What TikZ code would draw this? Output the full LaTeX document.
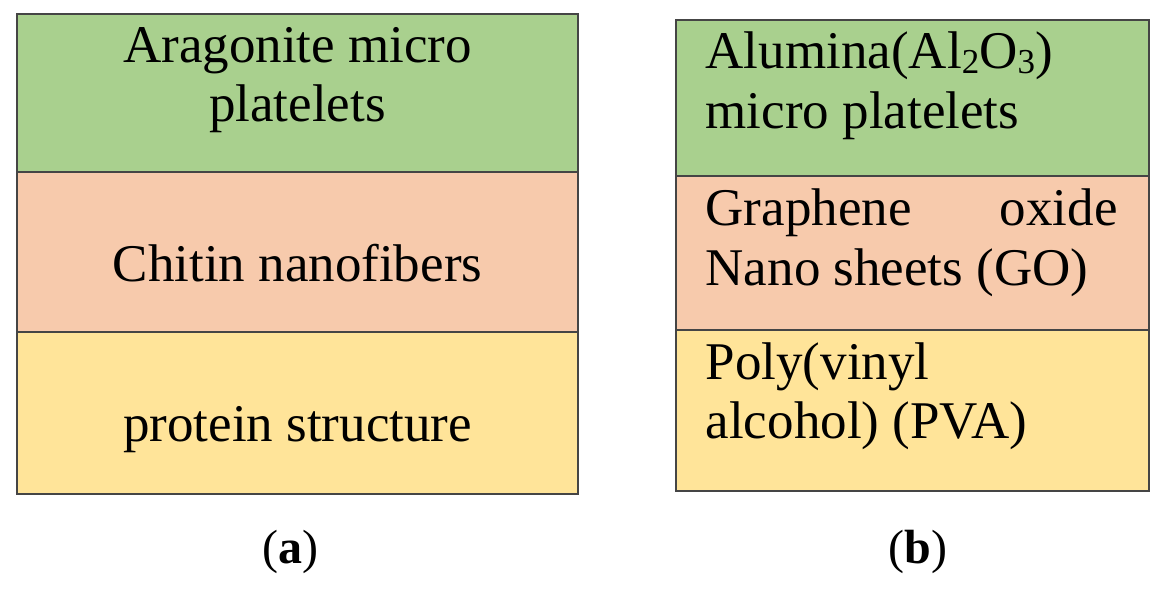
\documentclass[tikz,border=0pt]{standalone}
\usepackage{fontspec}
\setmainfont{Liberation Serif}
\definecolor{layergreen}{HTML}{A9D08E}
\definecolor{layerpeach}{HTML}{F7CAAC}
\definecolor{layeryellow}{HTML}{FFE499}
\definecolor{edgegray}{HTML}{454545}
\newcommand\chemsub[1]{\raisebox{-5pt}{\fontsize{35}{35}\selectfont #1}}
\begin{document}
\begin{tikzpicture}[x=1pt,y=-1pt,
  layer/.style={draw=edgegray,line width=1.6pt},
  big/.style={inner sep=0pt,font=\fontsize{53}{60}\selectfont},
  caption/.style={inner sep=0pt,anchor=base,font=\fontsize{48}{56}\selectfont}]
\useasboundingbox (0,0) rectangle (1162,591);
% panel (a)
\filldraw[layer,fill=layergreen] (17,14) rectangle (578,172);
\filldraw[layer,fill=layerpeach] (17,172) rectangle (578,332);
\filldraw[layer,fill=layeryellow] (17,332) rectangle (578,494);
\node[big,anchor=base] (a1) at (297.5,62.5) {Aragonite micro};
\node[big,anchor=base] (a2) at (297.5,121.5) {platelets};
\node[big,anchor=base] (a3) at (297.5,281.5) {Chitin nanofibers};
\node[big,anchor=base] (a4) at (297.5,441.5) {protein structure};
% panel (b)
\filldraw[layer,fill=layergreen] (676,20) rectangle (1149,176);
\filldraw[layer,fill=layerpeach] (676,176) rectangle (1149,330);
\filldraw[layer,fill=layeryellow] (676,330) rectangle (1149,491);
\node[big,anchor=base west] (b1) at (705.5,68.5) {Alumina(Al\chemsub{2}O\chemsub{3})};
\node[big,anchor=base west] (b2) at (705.5,128.5) {micro platelets};
\node[big,anchor=base west] (b3) at (705.5,225) {\makebox[412pt][s]{Graphene oxide}};
\node[big,anchor=base west] (b4) at (705.5,285) {Nano sheets (GO)};
\node[big,anchor=base west] (b5) at (705.5,379.5) {Poly(vinyl};
\node[big,anchor=base west] (b6) at (705.5,438.5) {alcohol) (PVA)};
% captions
\node[caption] (capa) at (290,563) {(\textbf{a})};
\node[caption] (capb) at (918,563) {(\textbf{b})};
\end{tikzpicture}
\end{document}
